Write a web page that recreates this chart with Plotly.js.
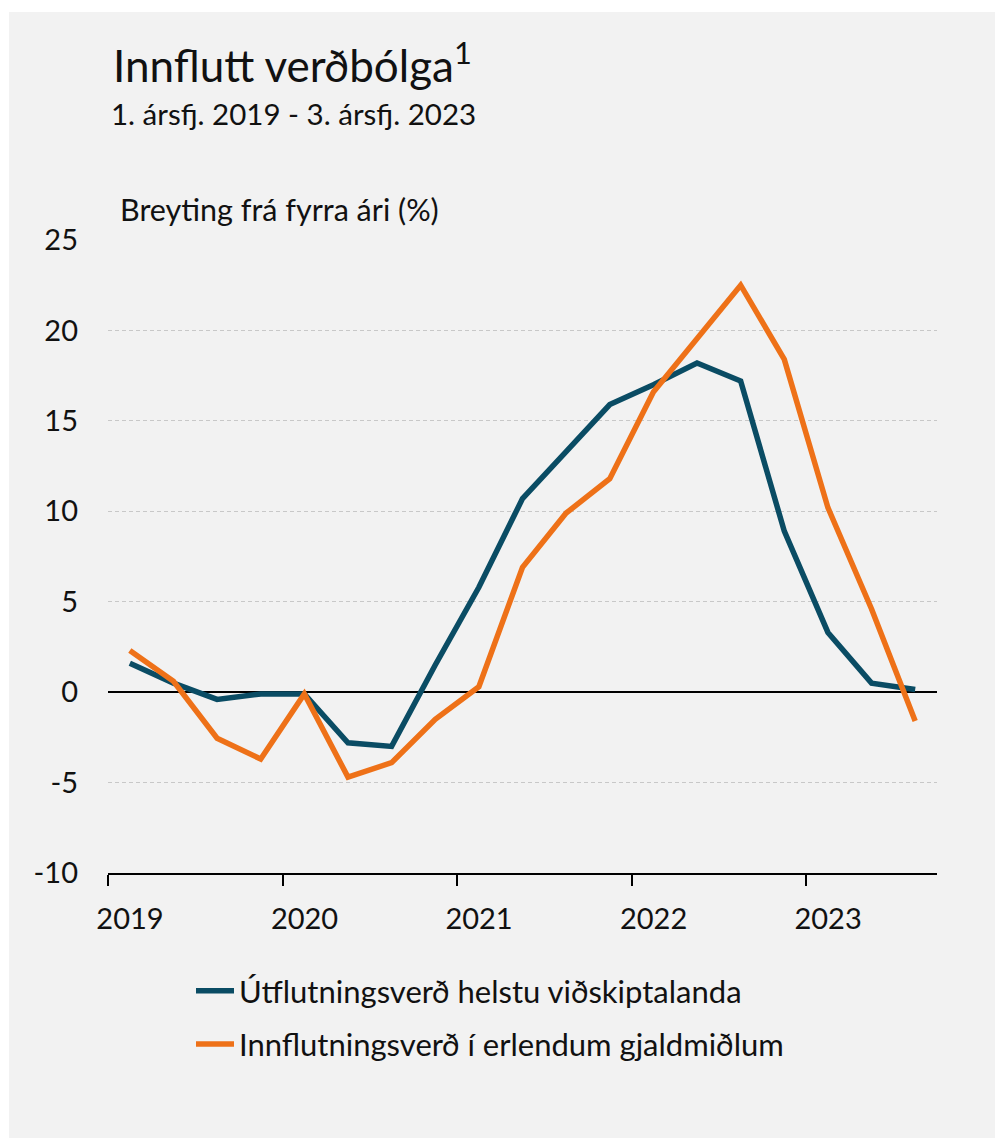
<!DOCTYPE html>
<html>
<head>
<meta charset="utf-8">
<script src="https://cdn.plot.ly/plotly-3.0.1.min.js"></script>
<style>
  html, body { margin: 0; padding: 0; background: #ffffff; }
  #chart { position: absolute; left: 9px; top: 12px; width: 986px; height: 1126px; }
</style>
</head>
<body>
<div id="chart"></div>
<script>
// Quarters, 1. ársfj. 2019 - 3. ársfj. 2023
const quarters = ["2019Q1","2019Q2","2019Q3","2019Q4",
                  "2020Q1","2020Q2","2020Q3","2020Q4",
                  "2021Q1","2021Q2","2021Q3","2021Q4",
                  "2022Q1","2022Q2","2022Q3","2022Q4",
                  "2023Q1","2023Q2","2023Q3"];
// Útflutningsverð helstu viðskiptalanda (% change y/y)
const exportPrices = [1.6, 0.5, -0.4, -0.1, -0.1, -2.8, -3.0, 1.5, 5.8, 10.7, 13.3, 15.9, 17.0, 18.2, 17.2, 8.9, 3.3, 0.5, 0.15];
// Innflutningsverð í erlendum gjaldmiðlum (% change y/y)
const importPrices = [2.3, 0.6, -2.55, -3.7, -0.1, -4.7, -3.9, -1.5, 0.3, 6.9, 9.9, 11.8, 16.6, 19.6, 22.5, 18.4, 10.2, 4.6, -1.6];
const seriesNames = ["Útflutningsverð helstu viðskiptalanda", "Innflutningsverð í erlendum gjaldmiðlum"];
const yearLabels = ["2019","2020","2021","2022","2023"];
const yTicks = [-10, -5, 0, 5, 10, 15, 20, 25];

const xIdx = quarters.map((q, i) => i);
const yearTickVals = yearLabels.map(y => quarters.indexOf(y + "Q1") - 0.5);

const FONT = "Lato, 'Open Sans', sans-serif";
const TXT = "#111111";

const traces = [
  { x: xIdx, y: exportPrices, name: seriesNames[0], type: "scatter", mode: "lines",
    line: { color: "#0a4c64", width: 5.5 }, legendgroup: "a", text: quarters, hoverinfo: "text+y" },
  { x: xIdx, y: importPrices, name: seriesNames[1], type: "scatter", mode: "lines",
    line: { color: "#ee7118", width: 5.5 }, legendgroup: "b", text: quarters, hoverinfo: "text+y" }
];

const layout = {
  width: 986, height: 1126,
  paper_bgcolor: "#f2f2f2", plot_bgcolor: "#f2f2f2",
  margin: { l: 99, r: 58, t: 228, b: 265 },
  font: { family: FONT, color: TXT, size: 29 },
  title: {
    text: "Innflutt verðbólga<sup>1</sup>",
    font: { family: FONT, size: 44, color: TXT },
    xref: "container", yref: "container",
    x: 104 / 986, xanchor: "left",
    y: 1 - 55 / 1126, yanchor: "middle"
  },
  showlegend: true,
  legend: {
    x: (191 - 9 - 99) / 829, xanchor: "left", y: -0.144, yanchor: "top",
    bgcolor: "rgba(0,0,0,0)", font: { family: FONT, size: 31, color: TXT },
    tracegroupgap: 10, itemwidth: 38
  },
  xaxis: {
    range: [-0.5, quarters.length - 0.5],
    tickmode: "array", tickvals: yearTickVals, ticktext: yearLabels,
    ticks: "outside", ticklen: 11, tickwidth: 2, tickcolor: "#000",
    showline: true, linecolor: "#000", linewidth: 2,
    showgrid: false, zeroline: false,
    ticklabelshift: 22, ticklabelstandoff: 8,
    tickfont: { family: FONT, size: 29, color: TXT },
    fixedrange: true
  },
  yaxis: {
    range: [-10, 25],
    tickmode: "array", tickvals: yTicks, ticktext: yTicks.map(String),
    ticks: "", showline: false,
    showgrid: true, gridcolor: "#c8c8c8", gridwidth: 1, griddash: "4px,3px",
    zeroline: true, zerolinecolor: "#000", zerolinewidth: 2,
    ticklabelstandoff: 29,
    tickfont: { family: FONT, size: 29, color: TXT },
    fixedrange: true
  },
  annotations: [
    { text: "1. ársfj. 2019 - 3. ársfj. 2023", xref: "paper", yref: "paper",
      x: (100 - 99) / 829, xanchor: "left", y: (861 - 102) / 633, yanchor: "middle",
      showarrow: false, font: { family: FONT, size: 29.5, color: TXT } },
    { text: "Breyting frá fyrra ári (%)", xref: "paper", yref: "paper",
      x: (109 - 99) / 829, xanchor: "left", y: (861 - 197) / 633, yanchor: "middle",
      showarrow: false, font: { family: FONT, size: 30.5, color: TXT } }
  ]
};

Plotly.newPlot("chart", traces, layout, { displayModeBar: false, staticPlot: true });
</script>
</body>
</html>
